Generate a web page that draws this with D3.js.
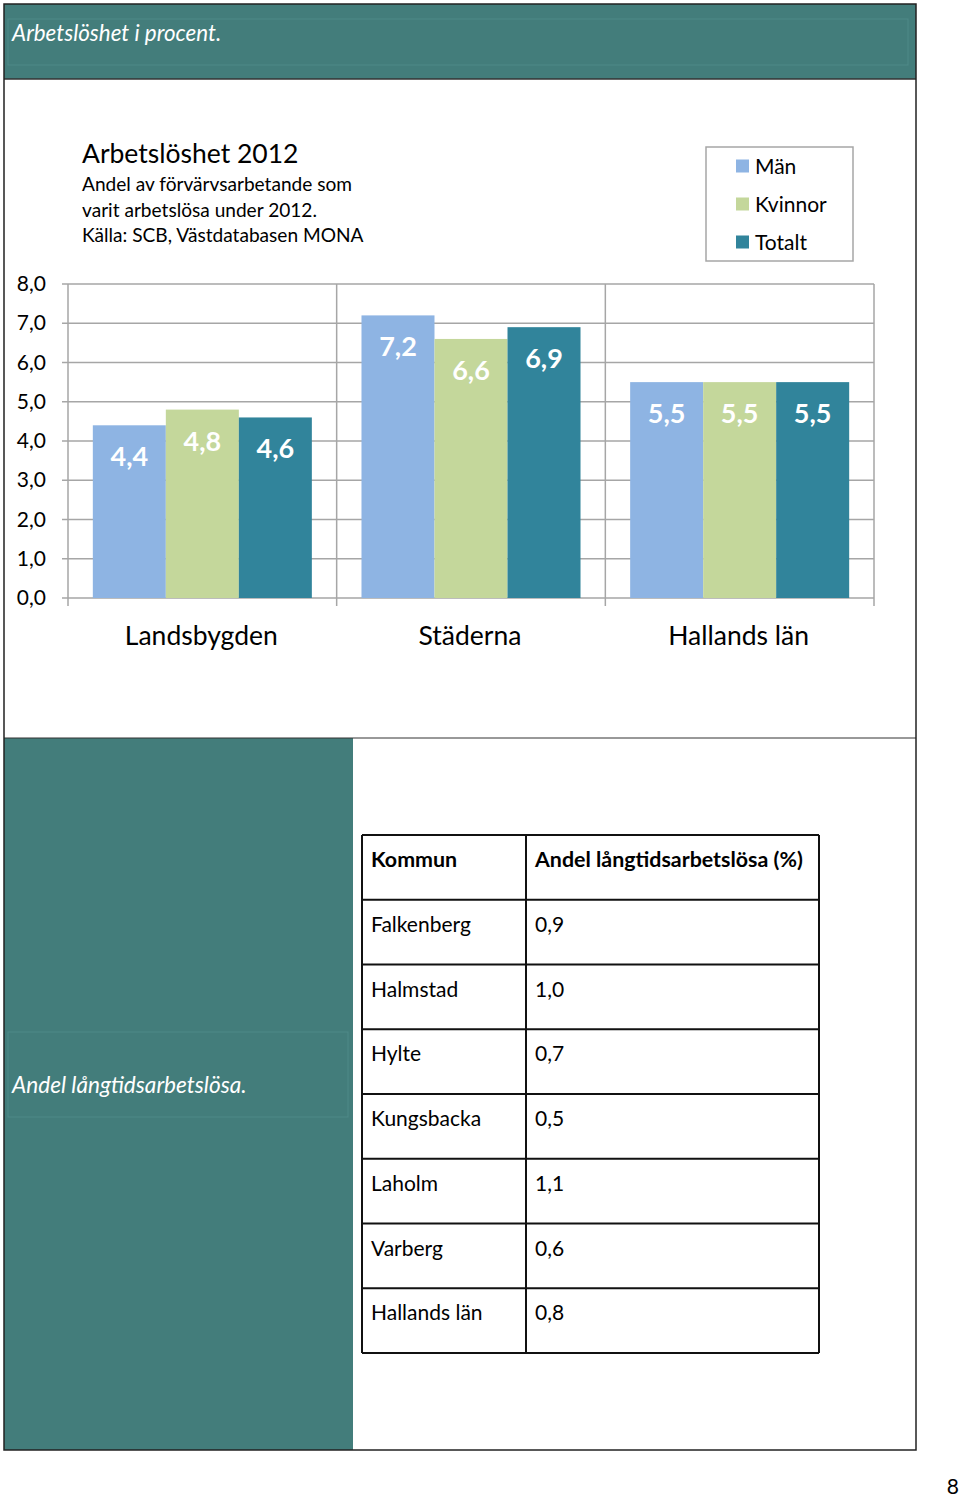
<!DOCTYPE html>
<html>
<head>
<meta charset="utf-8">
<script src="https://cdn.jsdelivr.net/npm/d3@7"></script>
<style>
  body { margin: 0; background: #fff; }
  svg { display: block; font-family: Lato, "Open Sans", sans-serif; }
</style>
</head>
<body>
<svg id="page" width="960" height="1497"></svg>
<script>
// chart data
var categories = ["Landsbygden", "Städerna", "Hallands län"];
var series = ["Män", "Kvinnor", "Totalt"];
var man = [4.4, 7.2, 5.5];
var kvinnor = [4.8, 6.6, 5.5];
var totalt = [4.6, 6.9, 5.5];
var yTicks = [0, 1, 2, 3, 4, 5, 6, 7, 8];

// table data
var kommuner = ["Falkenberg", "Halmstad", "Hylte", "Kungsbacka", "Laholm", "Varberg", "Hallands län"];
var langtid = [0.9, 1.0, 0.7, 0.5, 1.1, 0.6, 0.8];

var colors = { "Män": "#8eb4e3", "Kvinnor": "#c4d79b", "Totalt": "#31849b" };
var teal = "#437d7b";
var fmt = function(v) { return d3.format(".1f")(v).replace(".", ","); };

var values = [man, kvinnor, totalt];
var rows = categories.map(function(c, i) {
    return { cat: c, vals: series.map(function(s, j) { return { key: s, value: values[j][i] }; }) };
});

var svg = d3.select("#page");

// page frame and panels
svg.append("rect").attr("x", 4).attr("y", 4).attr("width", 912).attr("height", 75).attr("fill", teal);
svg.append("rect").attr("x", 8).attr("y", 19).attr("width", 900).attr("height", 46)
    .attr("fill", "none").attr("stroke", "#4f8a88").attr("stroke-width", 1);
svg.append("rect").attr("x", 4).attr("y", 738).attr("width", 349).attr("height", 712).attr("fill", teal);
svg.append("rect").attr("x", 8).attr("y", 1032).attr("width", 340).attr("height", 85)
    .attr("fill", "none").attr("stroke", "#4f8a88").attr("stroke-width", 1);
svg.append("line").attr("x1", 4).attr("x2", 916).attr("y1", 79).attr("y2", 79).attr("stroke", "#333").attr("stroke-width", 1.5);
svg.append("line").attr("x1", 4).attr("x2", 916).attr("y1", 738).attr("y2", 738).attr("stroke", "#333").attr("stroke-width", 1);
svg.append("rect").attr("x", 4).attr("y", 4).attr("width", 912).attr("height", 1446)
    .attr("fill", "none").attr("stroke", "#222").attr("stroke-width", 1.5);

svg.append("text").attr("x", 12).attr("y", 41).attr("fill", "#fff")
    .attr("font-size", 22.4).attr("font-style", "italic").text("Arbetslöshet i procent.");
svg.append("text").attr("x", 12).attr("y", 1093).attr("fill", "#fff")
    .attr("font-size", 22.6).attr("font-style", "italic").text("Andel långtidsarbetslösa.");
svg.append("text").attr("x", 959).attr("y", 1494).attr("text-anchor", "end")
    .attr("font-size", 21).text("8");

// chart titles
svg.append("text").attr("x", 82).attr("y", 163).attr("font-size", 26.5).text("Arbetslöshet 2012");
["Andel av förvärvsarbetande som", "varit arbetslösa under 2012.", "Källa: SCB, Västdatabasen MONA"]
    .forEach(function(t, i) {
        svg.append("text").attr("x", 82).attr("y", 191 + i * 25.5).attr("font-size", 19.1).text(t);
    });

// scales
var x0 = d3.scaleBand().domain(categories).range([68, 874]).padding(0);
var x1 = d3.scaleBand().domain(series).range([0, x0.bandwidth()]).paddingInner(0).paddingOuter(0.34);
var y = d3.scaleLinear().domain([0, 8]).range([598, 284]);

// gridlines
svg.append("g").selectAll("line").data(yTicks).enter().append("line")
    .attr("x1", 62).attr("x2", 874)
    .attr("y1", function(d) { return y(d); }).attr("y2", function(d) { return y(d); })
    .attr("stroke", "#a6a6a6").attr("stroke-width", 1.5);

// category separators
var bounds = categories.map(function(c) { return x0(c); }).concat([x0.range()[1]]);
svg.append("g").selectAll("line").data(bounds).enter().append("line")
    .attr("x1", function(d) { return d; }).attr("x2", function(d) { return d; })
    .attr("y1", y(8)).attr("y2", y(0) + 8)
    .attr("stroke", "#a6a6a6").attr("stroke-width", 1.5);

// y axis labels
var yAxis = d3.axisLeft(y).tickValues(yTicks).tickFormat(fmt).tickSize(0).tickPadding(0);
var ga = svg.append("g").attr("transform", "translate(46,0)").call(yAxis);
ga.select(".domain").remove();
ga.selectAll("text").attr("font-size", 21).attr("fill", "#000").attr("font-family", "Lato, 'Open Sans', sans-serif");

// bars
var groups = svg.append("g").selectAll("g").data(rows).enter().append("g")
    .attr("transform", function(d) { return "translate(" + x0(d.cat) + ",0)"; });

groups.selectAll("rect").data(function(d) { return d.vals; }).enter().append("rect")
    .attr("x", function(d) { return x1(d.key); })
    .attr("width", x1.bandwidth())
    .attr("y", function(d) { return y(d.value); })
    .attr("height", function(d) { return y(0) - y(d.value); })
    .attr("fill", function(d) { return colors[d.key]; });

groups.selectAll("text").data(function(d) { return d.vals; }).enter().append("text")
    .attr("x", function(d) { return x1(d.key) + x1.bandwidth() / 2; })
    .attr("y", function(d) { return y(d.value) + 41; })
    .attr("text-anchor", "middle").attr("fill", "#fff")
    .attr("font-size", 27).attr("font-weight", "bold")
    .text(function(d) { return fmt(d.value); });

// category labels
svg.append("g").selectAll("text").data(categories).enter().append("text")
    .attr("x", function(d) { return x0(d) + x0.bandwidth() / 2 - 1; })
    .attr("y", 645).attr("text-anchor", "middle").attr("font-size", 26.5)
    .text(function(d) { return d; });

// legend
svg.append("rect").attr("x", 706).attr("y", 147).attr("width", 147).attr("height", 114)
    .attr("fill", "#fff").attr("stroke", "#a6a6a6").attr("stroke-width", 1.5);
var leg = svg.append("g").selectAll("g").data(series).enter().append("g")
    .attr("transform", function(d, i) { return "translate(736," + (166 + i * 38) + ")"; });
leg.append("rect").attr("x", 0).attr("y", -6.5).attr("width", 13).attr("height", 13)
    .attr("fill", function(d) { return colors[d]; });
leg.append("text").attr("x", 19).attr("y", 7.5).attr("font-size", 21).text(function(d) { return d; });

// table
var tblX = [362, 526, 819];
var rowH = 64.75;
var tblTop = 835;
var tblRows = [["Kommun", "Andel långtidsarbetslösa (%)"]].concat(
    kommuner.map(function(k, i) { return [k, fmt(langtid[i])]; }));
var tbl = svg.append("g");
var tr = tbl.selectAll("g").data(tblRows).enter().append("g")
    .attr("transform", function(d, i) { return "translate(0," + (tblTop + i * rowH) + ")"; });
tr.append("text").attr("x", tblX[0] + 9).attr("y", 32)
    .attr("font-size", function(d, i) { return i === 0 ? 21.4 : 21; })
    .attr("font-weight", function(d, i) { return i === 0 ? "bold" : "normal"; })
    .text(function(d) { return d[0]; });
tr.append("text").attr("x", tblX[1] + 9).attr("y", 32)
    .attr("font-size", function(d, i) { return i === 0 ? 21.4 : 21; })
    .attr("font-weight", function(d, i) { return i === 0 ? "bold" : "normal"; })
    .text(function(d) { return d[1]; });
tbl.selectAll("line.h").data(d3.range(tblRows.length + 1)).enter().append("line")
    .attr("x1", tblX[0]).attr("x2", tblX[2])
    .attr("y1", function(i) { return tblTop + i * rowH; }).attr("y2", function(i) { return tblTop + i * rowH; })
    .attr("stroke", "#111").attr("stroke-width", 2);
tbl.selectAll("line.v").data(tblX).enter().append("line")
    .attr("x1", function(d) { return d; }).attr("x2", function(d) { return d; })
    .attr("y1", tblTop).attr("y2", tblTop + tblRows.length * rowH)
    .attr("stroke", "#111").attr("stroke-width", 2);
</script>
</body>
</html>
